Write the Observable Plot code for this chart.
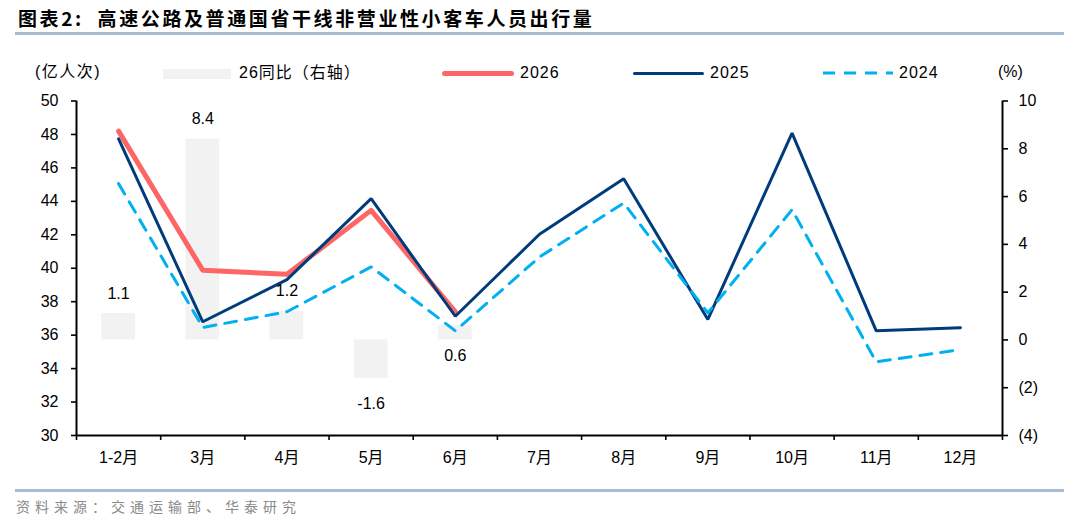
<!DOCTYPE html>
<html>
<head>
<meta charset="utf-8">
<script src="https://cdn.jsdelivr.net/npm/d3@7"></script>
<script src="https://cdn.jsdelivr.net/npm/@observablehq/plot@0.6"></script>
<style>
  html, body { margin: 0; padding: 0; background: #fff; }
  #wrap { position: relative; width: 1080px; height: 525px; overflow: hidden;
          font-family: "Liberation Sans", "Noto Sans CJK SC", sans-serif; color: #000; }
  .abs { position: absolute; white-space: nowrap; }
  #title { left: 18px; top: 6px; font-family: "Noto Sans CJK SC", sans-serif; font-weight: bold;
           font-size: 19px; letter-spacing: 2.6px; line-height: 24px; }
  .rule { position: absolute; left: 15px; width: 1049px; height: 3px; background: #a9bbd3; }
  .leg { font-size: 16px; line-height: 20px; font-family: "Liberation Sans", "Noto Sans CJK SC", sans-serif; }
  #chart { position: absolute; left: 0; top: 85px; }
  #source { left: 16px; top: 496px; font-family: "Noto Sans CJK SC", sans-serif; font-size: 14px;
            color: #8a8a8a; letter-spacing: 5px; line-height: 20px; }
</style>
</head>
<body>
<div id="wrap">
  <div id="title" class="abs">图表2:&nbsp;&nbsp;高速公路及普通国省干线非营业性小客车人员出行量</div>
  <div class="rule" style="top:32px;"></div>

  <div class="abs leg" style="left:35px;top:62px;letter-spacing:1.5px;">(亿人次)</div>
  <div class="abs" style="left:163px;top:69px;width:68px;height:10px;background:#f2f2f2;"></div>
  <div class="abs leg" style="left:239px;top:63px;letter-spacing:1px;">26同比（右轴）</div>
  <div class="abs" style="left:442px;top:71px;width:72px;height:5px;border-radius:3px;background:#fe6666;"></div>
  <div class="abs leg" style="left:520px;top:63px;letter-spacing:1px;">2026</div>
  <div class="abs" style="left:633px;top:72px;width:71px;height:3px;border-radius:2px;background:#003b7c;"></div>
  <div class="abs leg" style="left:710px;top:63px;letter-spacing:1px;">2025</div>
  <svg class="abs" style="left:822px;top:69px;" width="72" height="8">
    <line x1="1" y1="4" x2="71" y2="4" stroke="#00b0f0" stroke-width="3" stroke-dasharray="12,9"></line>
  </svg>
  <div class="abs leg" style="left:899px;top:63px;letter-spacing:1px;">2024</div>
  <div class="abs leg" style="left:998px;top:62px;">(%)</div>

  <div id="chart"></div>

  <div class="rule" style="top:489px;"></div>
  <div id="source" class="abs">资料来源：交通运输部、华泰研究</div>
</div>
<script>
// ---- data ----
const categories = ["1-2月", "3月", "4月", "5月", "6月", "7月", "8月", "9月", "10月", "11月", "12月"];
const v2026 = [48.2, 39.88, 39.64, 43.46, 37.39];
const v2025 = [47.74, 36.8, 39.32, 44.16, 37.13, 42.03, 45.35, 36.94, 48.08, 36.26, 36.44];
const v2024 = [45.06, 36.46, 37.4, 40.08, 36.26, 40.67, 43.9, 37.33, 43.5, 34.4, 35.14];
const yoy26 = [1.1, 8.4, 1.2, -1.6, 0.6];
const leftTicks = [30, 32, 34, 36, 38, 40, 42, 44, 46, 48, 50];
const rightTicks = [-4, -2, 0, 2, 4, 6, 8, 10];

// right axis (-4..10) mapped onto left axis (30..50)
const L0 = 30, L1 = 50, R0 = -4, R1 = 10;
const r2l = v => L0 + (v - R0) * (L1 - L0) / (R1 - R0);
const l2r = y => R0 + (y - L0) * (R1 - R0) / (L1 - L0);
const fmtR = v => { const r = Math.round(v); return r < 0 ? `(${-r})` : `${r}`; };

const idx = categories.map((c, i) => i);
const series = arr => arr.map((v, i) => ({i, v}));

const chart = Plot.plot({
  width: 1080,
  height: 395,
  marginTop: 15.5,
  marginBottom: 45,
  marginLeft: 76,
  marginRight: 78,
  x: {domain: [0, categories.length], axis: null},
  y: {domain: [L0, L1], axis: null},
  style: {fontFamily: "'Liberation Sans', 'Noto Sans CJK SC', sans-serif", fontSize: "16px", color: "#000", background: "transparent"},
  marks: [
    // bars: 26 YoY (right axis)
    Plot.rect(series(yoy26), {
      x1: d => d.i + 0.3, x2: d => d.i + 0.7,
      y1: () => r2l(0), y2: d => r2l(d.v),
      fill: "#f2f2f2"
    }),
    // lines
    Plot.line(series(v2026), {x: d => d.i + 0.5, y: "v", stroke: "#fe6666", strokeWidth: 5, strokeLinejoin: "round", strokeLinecap: "round"}),
    Plot.line(series(v2025), {x: d => d.i + 0.5, y: "v", stroke: "#003b7c", strokeWidth: 3, strokeLinejoin: "miter", strokeLinecap: "round"}),
    Plot.line(series(v2024), {x: d => d.i + 0.5, y: "v", stroke: "#00b0f0", strokeWidth: 3, strokeDasharray: "12,9", strokeLinejoin: "round"}),
    // bar labels
    Plot.text(series(yoy26).filter(d => d.v >= 1), {x: d => d.i + 0.5, y: d => r2l(d.v), text: d => d.v.toFixed(1), dy: -20, fill: "#000"}),
    Plot.text(series(yoy26).filter(d => d.v < 0), {x: d => d.i + 0.5, y: d => r2l(d.v), text: d => d.v.toFixed(1), dy: 26, fill: "#000"}),
    Plot.text(series(yoy26).filter(d => d.v >= 0 && d.v < 1), {x: d => d.i + 0.5, y: () => r2l(0), text: d => d.v.toFixed(1), dy: 16, fill: "#000"}),
    // axis lines
    Plot.ruleX([0], {y1: L0, y2: L1, stroke: "#000", strokeWidth: 2}),
    Plot.ruleX([categories.length], {y1: L0, y2: L1, stroke: "#000", strokeWidth: 2}),
    Plot.ruleY([L0], {x1: 0, x2: categories.length, stroke: "#000", strokeWidth: 2}),
    // left axis
    Plot.axisY(leftTicks, {anchor: "left", label: null, tickSize: 5, tickPadding: 13, strokeWidth: 1.6, tickFormat: d => `${d}`}),
    // right axis
    Plot.axisY(rightTicks.map(r2l), {anchor: "right", label: null, tickSize: 5, tickPadding: 11, strokeWidth: 1.6, tickFormat: y => fmtR(l2r(y))}),
    // bottom ticks at category boundaries
    Plot.axisX(d3.range(0, categories.length + 1), {anchor: "bottom", label: null, tickSize: 5, strokeWidth: 1.6, tickFormat: () => ""}),
    // category labels
    Plot.axisX(idx.map(i => i + 0.5), {anchor: "bottom", label: null, tickSize: 0, tickPadding: 16, tickFormat: x => categories[Math.floor(x)]})
  ]
});
document.getElementById("chart").appendChild(chart);
</script>
</body>
</html>
